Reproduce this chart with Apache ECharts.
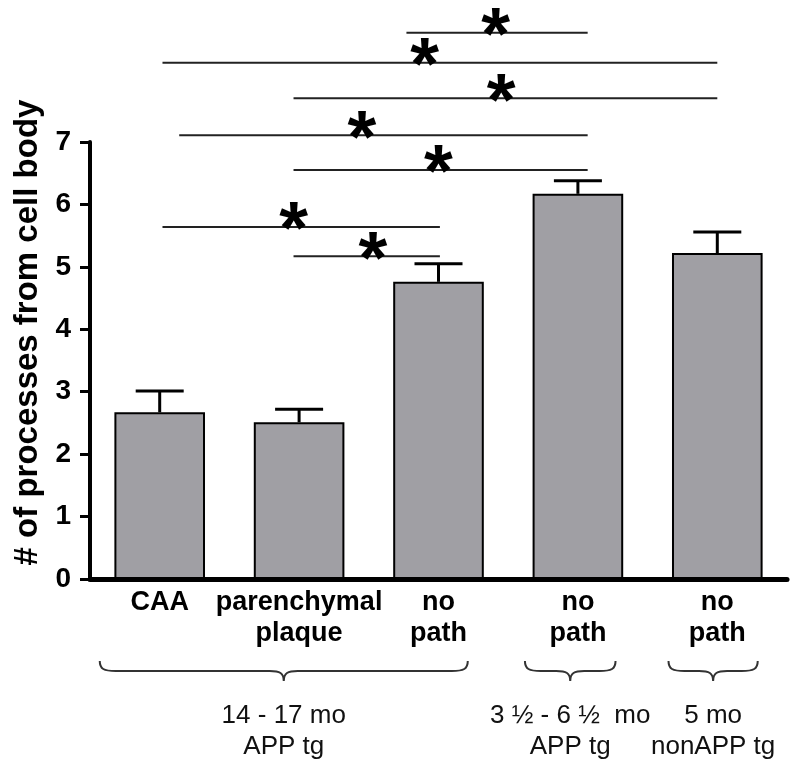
<!DOCTYPE html>
<html>
<head>
<meta charset="utf-8">
<script src="https://cdn.jsdelivr.net/npm/echarts@6/dist/echarts.min.js"></script>
<style>
  html, body { margin: 0; padding: 0; background: #fff; }
  #main { width: 800px; height: 776px; }
</style>
</head>
<body>
<div id="main"></div>
<script>
// mean # of processes per cell and SEM
var categories = ['CAA', 'parenchymal\nplaque', 'no\npath', 'no\npath', 'no\npath'];
var means = [2.67, 2.51, 4.76, 6.17, 5.22];
var sems = [0.34, 0.21, 0.29, 0.21, 0.34];

// significance bars: ends and star in category units, height in y units
var sigFrom = [1.77, 0.02, 0.96, 0.14, 0.96, 0.02, 0.96];
var sigTo = [3.07, 4.00, 4.00, 3.07, 3.07, 2.01, 2.01];
var sigY = [8.75, 8.27, 7.70, 7.11, 6.55, 5.64, 5.17];
var starX = [2.41, 1.90, 2.45, 1.45, 2.00, 0.96, 1.53];

// age groups under the axis
var groupFrom = [-0.43, 2.62, 3.65];
var groupTo = [2.21, 3.27, 4.29];
var groupLabels = ['14 - 17 mo\nAPP tg', '3 \u00bd - 6 \u00bd  mo\nAPP tg', '5 mo\nnonAPP tg'];

var FONT = '"Liberation Sans", Arial, sans-serif';

var myChart = echarts.init(document.getElementById('main'));

var errData = means.map(function (m, i) { return [i, m, m + sems[i]]; });
var sigData = sigFrom.map(function (f, i) { return [f, sigTo[i], sigY[i], starX[i]]; });
var groupData = groupFrom.map(function (f, i) { return [f, groupTo[i], i]; });

var option = {
    backgroundColor: '#fff',
    animation: false,
    grid: { left: 90, right: 13, top: 142, bottom: 197, containLabel: false },
    xAxis: [{
        type: 'category',
        data: categories,
        axisLine: { lineStyle: { color: '#000', width: 5 } },
        axisTick: { show: false },
        axisLabel: {
            color: '#000', fontFamily: FONT, fontWeight: 'bold',
            fontSize: 27, lineHeight: 31, margin: 8, interval: 0
        }
    }, {
        type: 'value', min: -0.5, max: 4.5, show: false
    }],
    yAxis: {
        type: 'value',
        min: 0, max: 7, interval: 1,
        name: '# of processes from cell body',
        nameLocation: 'middle',
        nameGap: 44,
        nameTextStyle: {
            color: '#000', fontFamily: FONT, fontWeight: 'bold', fontSize: 33,
            padding: [0, 0, 0, 56]
        },
        axisLine: { show: true, onZero: false, lineStyle: { color: '#000', width: 4 } },
        axisTick: { show: true, length: 10, lineStyle: { color: '#000', width: 3 } },
        axisLabel: { color: '#000', fontFamily: FONT, fontWeight: 'bold', fontSize: 28, margin: 19 },
        splitLine: { show: false }
    },
    series: [{
        type: 'bar',
        data: means,
        barWidth: '65%',
        itemStyle: { color: '#a09fa4', borderColor: '#000', borderWidth: 2 },
        z: 2
    }, {
        // upper error bars
        type: 'custom',
        data: errData,
        clip: false,
        z: 3,
        renderItem: function (params, api) {
            var top = api.coord([api.value(0), api.value(2)]);
            var base = api.coord([api.value(0), api.value(1)]);
            return {
                type: 'group',
                children: [{
                    type: 'line',
                    shape: { x1: base[0], y1: base[1], x2: top[0], y2: top[1] },
                    style: { stroke: '#000', lineWidth: 3 }
                }, {
                    type: 'line',
                    shape: { x1: top[0] - 24, y1: top[1], x2: top[0] + 24, y2: top[1] },
                    style: { stroke: '#000', lineWidth: 3 }
                }]
            };
        }
    }, {
        // significance lines with stars
        type: 'custom',
        xAxisIndex: 1,
        data: sigData,
        clip: false,
        z: 3,
        renderItem: function (params, api) {
            var a = api.coord([api.value(0), api.value(2)]);
            var b = api.coord([api.value(1), api.value(2)]);
            var s = api.coord([api.value(3), api.value(2)]);
            return {
                type: 'group',
                children: [{
                    type: 'line',
                    shape: { x1: a[0], y1: a[1], x2: b[0], y2: b[1] },
                    style: { stroke: '#222', lineWidth: 2 }
                }, {
                    type: 'text',
                    style: {
                        text: '*', x: s[0], y: s[1] + 6,
                        align: 'center', verticalAlign: 'middle',
                        fontFamily: FONT, fontWeight: 'bold', fontSize: 74, fill: '#000'
                    }
                }]
            };
        }
    }, {
        // braces and group labels
        type: 'custom',
        xAxisIndex: 1,
        data: groupData,
        clip: false,
        z: 3,
        renderItem: function (params, api) {
            var p1 = api.coord([api.value(0), 0]);
            var p2 = api.coord([api.value(1), 0]);
            var x1 = p1[0], x2 = p2[0], xm = (x1 + x2) / 2, y0 = p1[1];
            var yE = y0 + 82, yF = y0 + 92, yT = y0 + 102;
            var d = 'M' + x1 + ',' + yE +
                ' C' + x1 + ',' + (yF - 2) + ' ' + (x1 + 4) + ',' + yF + ' ' + (x1 + 16) + ',' + yF +
                ' L' + (xm - 14) + ',' + yF +
                ' C' + (xm - 4) + ',' + yF + ' ' + xm + ',' + (yF + 2) + ' ' + xm + ',' + yT +
                ' C' + xm + ',' + (yF + 2) + ' ' + (xm + 4) + ',' + yF + ' ' + (xm + 14) + ',' + yF +
                ' L' + (x2 - 16) + ',' + yF +
                ' C' + (x2 - 4) + ',' + yF + ' ' + x2 + ',' + (yF - 2) + ' ' + x2 + ',' + yE;
            return {
                type: 'group',
                children: [{
                    type: 'path',
                    shape: { pathData: d },
                    style: { stroke: '#333', lineWidth: 2, fill: null }
                }, {
                    type: 'text',
                    style: {
                        text: groupLabels[api.value(2)], x: xm, y: y0 + 121,
                        align: 'center', verticalAlign: 'top',
                        fontFamily: FONT, fontSize: 26, lineHeight: 31, fill: '#111'
                    }
                }]
            };
        }
    }]
};

myChart.setOption(option);
</script>
</body>
</html>
